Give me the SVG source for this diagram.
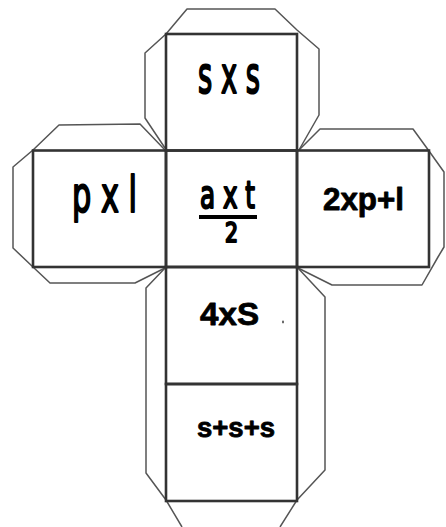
<svg xmlns="http://www.w3.org/2000/svg" width="446" height="527" viewBox="0 0 446 527">
<style>
.face{fill:none;stroke:#333;stroke-width:2.6}
.tab{fill:none;stroke:#555;stroke-width:1.5;stroke-linejoin:round}
.thin{font-family:"DejaVu Sans","Liberation Sans",sans-serif;fill:#000;stroke:#000;stroke-width:2.2;stroke-linejoin:round}
.bold{font-family:"Liberation Sans","Arial",sans-serif;font-weight:bold;fill:#000;stroke:#000;stroke-width:0.8;stroke-linejoin:round}
</style>
<rect width="446" height="527" fill="#fff"/>
<g id="tabs">
<polyline class="tab" points="165,148 145,118 145,53 166,34 187,9 275,9 297,30 319,49 319,115 299,150"/>
<polyline class="tab" points="165,150 140,124 59,125 33,150 13,167 13,248 33,267 50,283 135,283 165,268"/>
<polyline class="tab" points="299,150 320,129 413,129 429,151 444,172 444,247 438,257 422,285 332,285 298,268"/>
<polyline class="tab" points="166,267 146,288 146,473 166,500 182,527"/>
<polyline class="tab" points="297,267 325,297 325,470 297,500 280,527"/>
</g>
<g id="face-top">
<rect class="face" x="166" y="34" width="131" height="116.5"/>
<text class="thin" x="198" y="93" font-size="52" textLength="62" lengthAdjust="spacingAndGlyphs">s x s</text>
</g>
<g id="face-left">
<rect class="face" x="33" y="150.5" width="133" height="116.5"/>
<text class="thin" x="72" y="212" font-size="50" textLength="65" lengthAdjust="spacingAndGlyphs">p x l</text>
</g>
<g id="face-center">
<rect class="face" x="166" y="150.5" width="131" height="116.5"/>
<text class="thin" x="200" y="208" font-size="38" textLength="55" lengthAdjust="spacingAndGlyphs">a x t</text>
<line x1="199" y1="217" x2="257" y2="217" stroke="#000" stroke-width="4"/>
<text class="thin" x="225" y="242" font-size="26" textLength="13" lengthAdjust="spacingAndGlyphs">2</text>
</g>
<g id="face-right">
<rect class="face" x="297" y="150.5" width="132" height="116.5"/>
<text class="bold" x="323" y="210" font-size="31" textLength="81" lengthAdjust="spacingAndGlyphs">2xp+l</text>
</g>
<g id="face-bottom1">
<rect class="face" x="166" y="267" width="131" height="117"/>
<text class="bold" x="200" y="325" font-size="32" textLength="59" lengthAdjust="spacingAndGlyphs">4xS</text>
<ellipse cx="283" cy="322" rx="0.8" ry="1.4" fill="#333"/>
</g>
<g id="face-bottom2">
<rect class="face" x="166" y="384" width="131" height="117"/>
<text class="bold" x="197" y="437" font-size="27" textLength="78" lengthAdjust="spacingAndGlyphs">s+s+s</text>
</g>
</svg>
